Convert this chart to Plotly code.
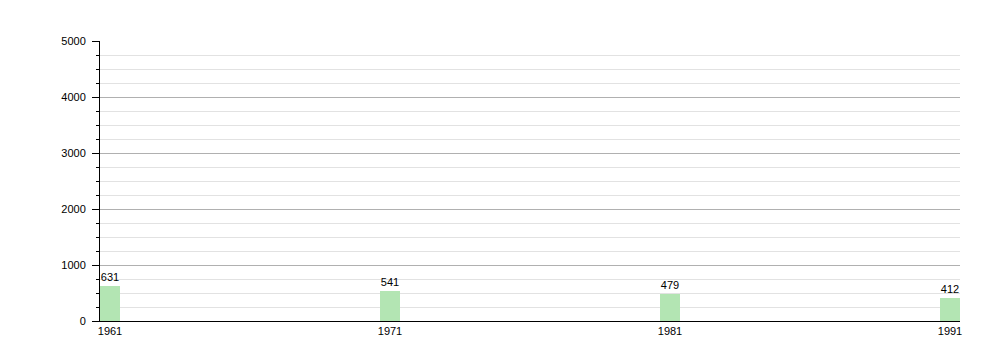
import plotly.graph_objects as go

years = [1961, 1971, 1981, 1991]
population = [631, 541, 479, 412]
tick_labels = ["1961", "1971", "1981", "1991"]

fig = go.Figure()
fig.add_trace(go.Bar(
    x=years, y=population, width=0.714,
    marker=dict(color="#b3e5b3", line=dict(width=0)),
    text=[str(v) for v in population], textposition="outside",
    textfont=dict(family="Liberation Sans, Arial", size=11, color="#000000"),
    cliponaxis=False,
))
fig.update_layout(
    width=1000, height=360,
    margin=dict(l=100, r=40, t=41, b=39),
    paper_bgcolor="white", plot_bgcolor="white",
    showlegend=False, bargap=0,
    font=dict(family="Liberation Sans, Arial", size=11, color="#000000"),
)
fig.update_xaxes(
    range=[1961 - 10/28, 1991 + 10/28],
    tickvals=years, ticktext=tick_labels,
    tickfont=dict(color="#000000"),
    showgrid=False, zeroline=False,
    showline=True, linecolor="black", linewidth=1,
    ticks="", ticklen=0,
)
fig.update_yaxes(
    range=[0, 5000], dtick=1000, tick0=0,
    tickfont=dict(color="#000000"),
    showgrid=True, gridcolor="#b0b0b0", gridwidth=1,
    zeroline=False,
    showline=True, linecolor="black", linewidth=1,
    ticks="outside", ticklen=7, tickcolor="black",
    ticklabelstandoff=4,
    minor=dict(dtick=250, showgrid=True, gridcolor="#e2e2e2",
               ticks="outside", ticklen=3, tickcolor="black"),
)
fig.write_html("out.html")
